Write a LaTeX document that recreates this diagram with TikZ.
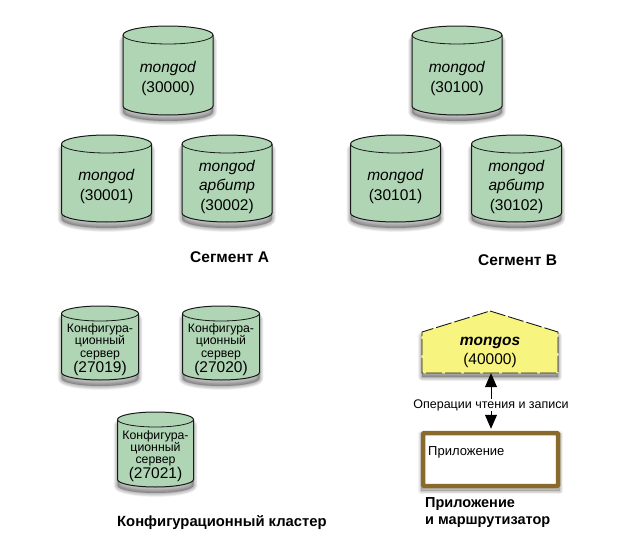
\documentclass[tikz,border=0pt]{standalone}
\usepackage{fontspec}
\setmainfont{Liberation Sans}
\usetikzlibrary{arrows.meta}
\definecolor{cylgreen}{HTML}{B0D5B5}
\definecolor{routeryellow}{HTML}{F8F480}
\definecolor{appbrown}{HTML}{8A6A2C}
\tikzset{
  x=1pt,y=-1pt,
  cylbody/.style={fill=cylgreen,draw=black!90,line width=1pt},
  softshadow/.style={draw=black,fill=black,opacity=.05,line join=round},
  celltext/.style={align=center,inner sep=0pt,font=\fontsize{15.5}{19.5}\selectfont},
  cfgtext/.style={align=center,inner sep=0pt,font=\fontsize{12.3}{12.3}\selectfont},
  caption/.style={inner sep=0pt,anchor=base west,font=\bfseries\fontsize{14.8}{18}\selectfont},
  segcaption/.style={caption,font=\bfseries\fontsize{15.5}{18}\selectfont},
  rwarrow/.style={{Triangle[length=14pt,width=12pt]}-,line width=.8pt},
}
% name, cx, top, half width, bottom, ry, text, text style
\newcommand{\mycyl}[8]{%
  \pgfmathsetmacro{\xl}{#2-#4}\pgfmathsetmacro{\xr}{#2+#4}
  \pgfmathsetmacro{\yc}{#3+#6}\pgfmathsetmacro{\ya}{#3+2*#6}
  \pgfmathsetmacro{\yb}{#5-#6}
  \pgfmathsetmacro{\kx}{.5523*#4}\pgfmathsetmacro{\ky}{.5523*#6}
  \pgfmathsetmacro{\xm}{#2-\kx}\pgfmathsetmacro{\xp}{#2+\kx}
  \pgfmathsetmacro{\ycm}{\yc-\ky}\pgfmathsetmacro{\ycp}{\yc+\ky}
  \pgfmathsetmacro{\ybp}{\yb+\ky}
  \def\sil{(\xl,\yc) -- (\xl,\yb) .. controls (\xl,\ybp) and (\xm,#5) .. (#2,#5)
    .. controls (\xp,#5) and (\xr,\ybp) .. (\xr,\yb) -- (\xr,\yc)
    .. controls (\xr,\ycm) and (\xp,#3) .. (#2,#3)
    .. controls (\xm,#3) and (\xl,\ycm) .. (\xl,\yc) -- cycle}
  \foreach \i in {1,...,6}{
    \path[softshadow,line width=\i*1.3pt,yshift=-6pt] \sil;
  }
  \path[cylbody] \sil;
  \draw[black!90,line width=.8pt] (\xl,\yc) .. controls (\xl,\ycp) and (\xm,\ya) .. (#2,\ya)
    .. controls (\xp,\ya) and (\xr,\ycp) .. (\xr,\yc);
  \pgfmathsetmacro{\yt}{(\ya+#5)/2-1}
  \node[#8] (#1) at (#2,\yt) {#7};
}
\newcommand{\cfgtxt}[1]{Конфигура-\\ционный\\сервер\\\fontsize{15.5}{16}\selectfont (#1)}
\begin{document}
\begin{tikzpicture}
\useasboundingbox (0,0) rectangle (630,538);
% Segment A
\mycyl{a0}{168}{26}{45}{115}{9}{\textit{mongod}\\(30000)}{celltext}
\mycyl{a1}{106.5}{135}{45}{222}{9}{\textit{mongod}\\(30001)}{celltext}
\mycyl{a2}{227}{135}{45}{222}{9}{\textit{mongod}\\\textit{арбитр}\\(30002)}{celltext}
\node[segcaption] (capA) at (190,262) {Сегмент А};
% Segment B
\mycyl{b0}{457}{26}{45}{115}{9}{\textit{mongod}\\(30100)}{celltext}
\mycyl{b1}{395.5}{135}{45}{222}{9}{\textit{mongod}\\(30101)}{celltext}
\mycyl{b2}{516.5}{135}{45}{222}{9}{\textit{mongod}\\\textit{арбитр}\\(30102)}{celltext}
\node[segcaption] (capB) at (478,265) {Сегмент B};
% Config servers
\mycyl{c0}{100}{306}{38.5}{380}{7.5}{\cfgtxt{27019}}{cfgtext}
\mycyl{c1}{221}{306}{38.5}{380}{7.5}{\cfgtxt{27020}}{cfgtext}
\mycyl{c2}{155.5}{412}{38}{487}{7.5}{\cfgtxt{27021}}{cfgtext}
\node[caption] (capC) at (117,526) {Конфигурационный кластер};
% mongos
\def\mongospath{(490,311) -- (558,332) -- (558,373) -- (422,373) -- (422,332) -- cycle}
\foreach \i in {1,...,6}{
  \path[softshadow,line width=\i*1.3pt,yshift=-4pt] \mongospath;
}
\path[fill=routeryellow] \mongospath;
\draw[black!90,line width=.9pt,dash pattern=on 16pt off 3pt] \mongospath;
\node[celltext,minimum width=136pt,minimum height=41pt] (mongos) at (490,352.5) {\textit{\textbf{mongos}}\\[0pt](40000)};
% application
\foreach \i in {1,...,4}{
  \path[softshadow,line width=\i*1.5pt,yshift=-3pt] (421,431) rectangle (560,488);
}
\node[draw=appbrown,fill=white,line width=4.5pt,rounded corners=1pt,minimum width=135pt,minimum height=53pt,inner sep=0pt,anchor=center] (app) at (490.5,459.5) {};
\node[inner sep=0pt,anchor=base west,font=\fontsize{13}{15}\selectfont] (applabel) at (428,455) {Приложение};
% read / write connector
\node[inner sep=0pt,font=\fontsize{12.5}{15}\selectfont] (rw) at (491,405) {Операции чтения и записи};
\draw[rwarrow] (mongos.south) ++(1,0) coordinate (mtip) -- (mtip |- rw.north);
\draw[rwarrow] (app.north) ++(0.5,-2) coordinate (atip) -- (atip |- rw.south);
\node[caption,align=left,anchor=north west,font=\bfseries\fontsize{14.5}{17.5}\selectfont] (capD) at (425,497) {Приложение\\и маршрутизатор};
\end{tikzpicture}
\end{document}
